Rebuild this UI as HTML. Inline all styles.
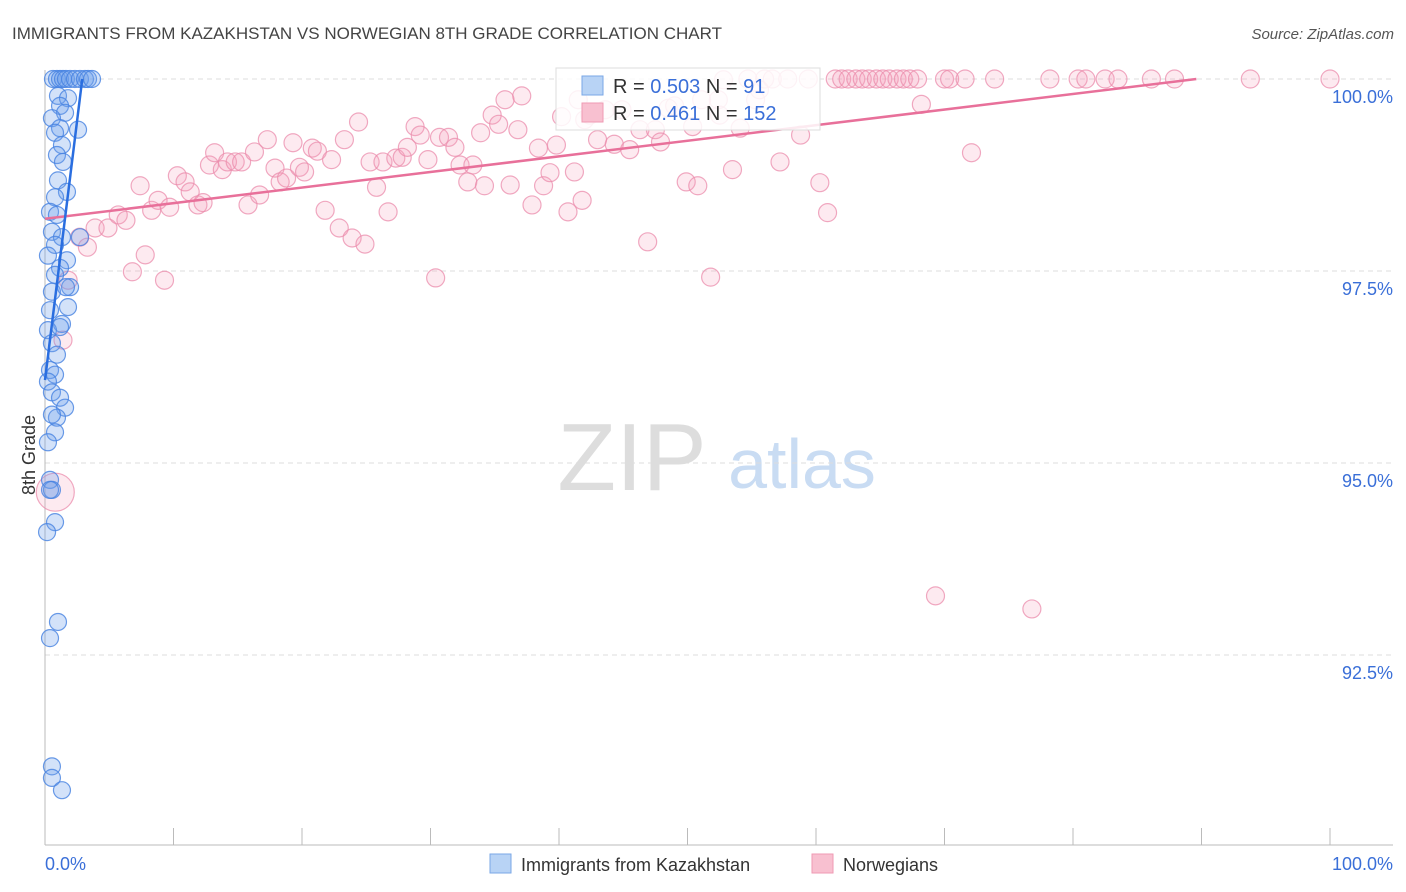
<!DOCTYPE html>
<html><head><meta charset="utf-8">
<style>
body{margin:0;background:#fff;font-family:"Liberation Sans",sans-serif;}
#wrap{position:relative;width:1406px;height:892px;overflow:hidden;}
svg text{font-family:"Liberation Sans",sans-serif;}
</style></head>
<body>
<div id="wrap">
<svg id="chart" width="1406" height="892">
<text x="12" y="39" font-size="17" fill="#444">IMMIGRANTS FROM KAZAKHSTAN VS NORWEGIAN 8TH GRADE CORRELATION CHART</text>
<text x="1394" y="39" font-size="15" fill="#555" font-style="italic" text-anchor="end">Source: ZipAtlas.com</text>
<text x="35" y="455" font-size="18" fill="#333" transform="rotate(-90 35 455)" text-anchor="middle">8th Grade</text>
<g>
<text x="632" y="490" font-size="96" fill="#ddd" font-family="Liberation Serif" text-anchor="middle">ZIP</text>
<text x="802" y="488" font-size="70" fill="#c9dcf3" text-anchor="middle">atlas</text>
</g>
<g id="grid"></g><g id="axes"></g><g id="pinkPts"></g><g id="bluePts"></g><g id="trends"></g>
<g>
<rect x="556" y="68" width="264" height="62" fill="#fff" fill-opacity="0.85" stroke="#ddd"/>
<rect x="582" y="76" width="21" height="19" fill="#b8d3f5" stroke="#7aa7e6"/>
<rect x="582" y="103" width="21" height="19" fill="#f8c0d0" stroke="#ef9ab3"/>
<text x="613" y="93" font-size="20" fill="#333">R = <tspan fill="#3a6fd8">0.503</tspan>   N = <tspan fill="#3a6fd8">  91</tspan></text>
<text x="613" y="120" font-size="20" fill="#333">R =  <tspan fill="#3a6fd8">0.461</tspan>   N = <tspan fill="#3a6fd8">152</tspan></text>
</g>
<g>
<rect x="490" y="854" width="21" height="19" fill="#b8d3f5" stroke="#7aa7e6"/>
<text x="521" y="871" font-size="18" fill="#333">Immigrants from Kazakhstan</text>
<rect x="812" y="854" width="21" height="19" fill="#f8c0d0" stroke="#ef9ab3"/>
<text x="843" y="871" font-size="18" fill="#333">Norwegians</text>
</g>
</svg>
</div>
<script>
const yTicks=[100,97.5,95,92.5];
const yTickLabels=["100.0%","97.5%","95.0%","92.5%"];
const xTicks=[0,10,20,30,40,50,60,70,80,90,100];
const blueX=[0.62,0.93,1.17,1.4,1.63,1.95,2.33,2.72,3.11,3.35,3.66,1.01,1.79,1.17,1.56,0.54,1.17,2.57,0.78,1.32,0.93,1.4,1.01,1.71,0.78,0.39,0.93,0.54,1.32,0.78,0.23,1.71,1.17,0.78,1.95,0.54,1.79,0.39,1.32,0.23,1.17,0.54,0.93,0.39,0.78,0.23,0.54,1.17,1.56,0.93,0.54,0.78,0.23,0.39,0.54,0.78,0.16,1.01,0.39,0.54,0.54,1.32,2.72,1.63,0.39];
const blueY=[100,100,100,100,100,100,100,100,100,100,100,99.78,99.75,99.65,99.56,99.49,99.36,99.34,99.3,99.14,99.01,98.92,98.68,98.53,98.46,98.27,98.23,98.01,97.94,97.84,97.7,97.64,97.54,97.45,97.29,97.23,97.03,96.99,96.81,96.73,96.77,96.56,96.41,96.21,96.15,96.06,95.92,95.85,95.72,95.59,95.63,95.4,95.27,94.78,94.65,94.23,94.1,92.93,92.72,91.05,90.9,90.74,97.94,97.29,94.65];
const pinkX=[1.8,1.4,0.8,2.7,3.3,3.9,4.9,5.7,6.3,6.8,7.4,7.8,8.3,8.8,9.3,9.7,10.3,10.9,11.3,11.9,12.3,12.8,13.2,13.8,14.2,14.8,15.3,15.8,16.3,16.7,17.3,17.9,18.3,18.8,19.3,19.8,20.2,20.8,21.2,21.8,22.3,22.9,23.3,23.9,24.4,24.9,25.3,25.8,26.3,26.7,27.3,27.8,28.2,28.8,29.2,29.8,30.4,30.7,31.4,31.9,32.3,32.9,33.3,33.9,34.2,34.8,35.3,35.8,36.2,36.8,37.1,37.9,38.4,38.8,39.3,39.8,40.2,40.7,41.2,41.8,42.4,43.0,43.6,44.3,44.9,45.5,46.3,46.9,47.5,47.9,48.5,49.0,49.9,50.4,50.8,51.1,51.8,52.4,52.8,53.5,54.1,54.7,55.3,56.0,56.6,57.2,57.8,58.8,59.4,60.3,60.9,61.5,62.0,62.5,63.1,63.6,64.1,64.7,65.2,65.7,66.3,66.8,67.3,67.9,68.2,69.3,70.0,70.4,71.6,72.1,73.9,76.8,78.2,80.4,81.0,82.5,83.5,86.1,87.9,93.8,100,41.5,42.0,52.5,55.6];
const pinkY=[97.38,96.6,94.62,97.94,97.81,98.06,98.06,98.23,98.16,97.49,98.61,97.71,98.29,98.42,97.38,98.33,98.74,98.66,98.53,98.36,98.39,98.88,99.04,98.82,98.92,98.92,98.92,98.36,99.05,98.49,99.21,98.84,98.66,98.71,99.17,98.85,98.79,99.1,99.06,98.29,98.95,98.06,99.21,97.93,99.44,97.85,98.92,98.59,98.92,98.27,98.97,98.98,99.11,99.38,99.27,98.95,97.41,99.24,99.24,99.11,98.88,98.66,98.88,99.3,98.61,99.53,99.41,99.73,98.62,99.34,99.78,98.36,99.1,98.61,98.78,99.14,99.51,98.27,98.79,98.42,99.53,99.21,99.6,99.15,99.6,99.08,99.34,97.88,99.34,99.18,99.62,99.65,98.66,99.38,98.61,99.73,97.42,99.73,99.99,98.82,99.36,100,99.73,100,100,98.92,100,99.27,100,98.65,98.26,100,100,100,100,100,100,100,100,100,100,100,100,100,99.67,93.27,100,100,100,99.04,100,93.1,100,100,100,100,100,100,100,100,100,99.73,99.47,99.53,99.86];
const blueTrendX=[0,2.9];
const blueTrendY=[96.08,100];
const pinkTrendX=[0,89.6];
const pinkTrendY=[98.18,100];

const X0=45,X1=1330,Y100=79,PXPER=76.8;
function xs(v){return X0+(X1-X0)*v/100;}
function ys(v){return Y100+(100-v)*PXPER;}
const NS="http://www.w3.org/2000/svg";
function mk(tag,attrs,parent){const e=document.createElementNS(NS,tag);for(const k in attrs)e.setAttribute(k,attrs[k]);parent.appendChild(e);return e;}
const grid=document.getElementById('grid'),axes=document.getElementById('axes');
yTicks.forEach((t,i)=>{
 const l=mk('line',{x1:45,x2:1393,y1:ys(t),y2:ys(t),stroke:'#ddd','stroke-dasharray':'5,4'},grid);
 
 
 const tx=mk('text',{x:1393,y:ys(t)+24,'font-size':18,fill:'#3a6fd8','text-anchor':'end'},axes);
 tx.textContent=yTickLabels[i];
 
 
});
const ax=mk('line',{x1:45,x2:1393,y1:845,y2:845,stroke:'#bbb'},axes);


const ay=mk('line',{x1:45,x2:45,y1:70,y2:845,stroke:'#bbb'},axes);


xTicks.forEach(t=>{
 const l=mk('line',{x1:xs(t),x2:xs(t),y1:828,y2:845,stroke:'#bbb'},axes);
 
 
});
const xl0=mk('text',{x:45,y:870,'font-size':18,fill:'#3a6fd8'},axes);xl0.textContent='0.0%';


const xl1=mk('text',{x:1393,y:870,'font-size':18,fill:'#3a6fd8','text-anchor':'end'},axes);xl1.textContent='100.0%';


const pg=document.getElementById('pinkPts');
pinkX.forEach((x,i)=>{
 const c=mk('circle',{cx:xs(x),cy:ys(pinkY[i]),r:(i==2?19:9),fill:'rgba(244,160,188,0.22)',stroke:'rgba(235,140,172,0.75)','stroke-width':1.2},pg);
 
 
});
const bg=document.getElementById('bluePts');
blueX.forEach((x,i)=>{
 const c=mk('circle',{cx:xs(x),cy:ys(blueY[i]),r:8.5,fill:'rgba(110,160,235,0.3)',stroke:'rgba(70,130,225,0.8)','stroke-width':1.2},bg);
 
 
});
const tg=document.getElementById('trends');
const tp=mk('line',{x1:xs(pinkTrendX[0]),y1:ys(pinkTrendY[0]),x2:xs(pinkTrendX[1]),y2:ys(pinkTrendY[1]),stroke:'#e8709a','stroke-width':2.5},tg);


const tb=mk('line',{x1:xs(blueTrendX[0]),y1:ys(blueTrendY[0]),x2:xs(blueTrendX[1]),y2:ys(blueTrendY[1]),stroke:'#2a6ee0','stroke-width':2.5},tg);


</script>
</body></html>
